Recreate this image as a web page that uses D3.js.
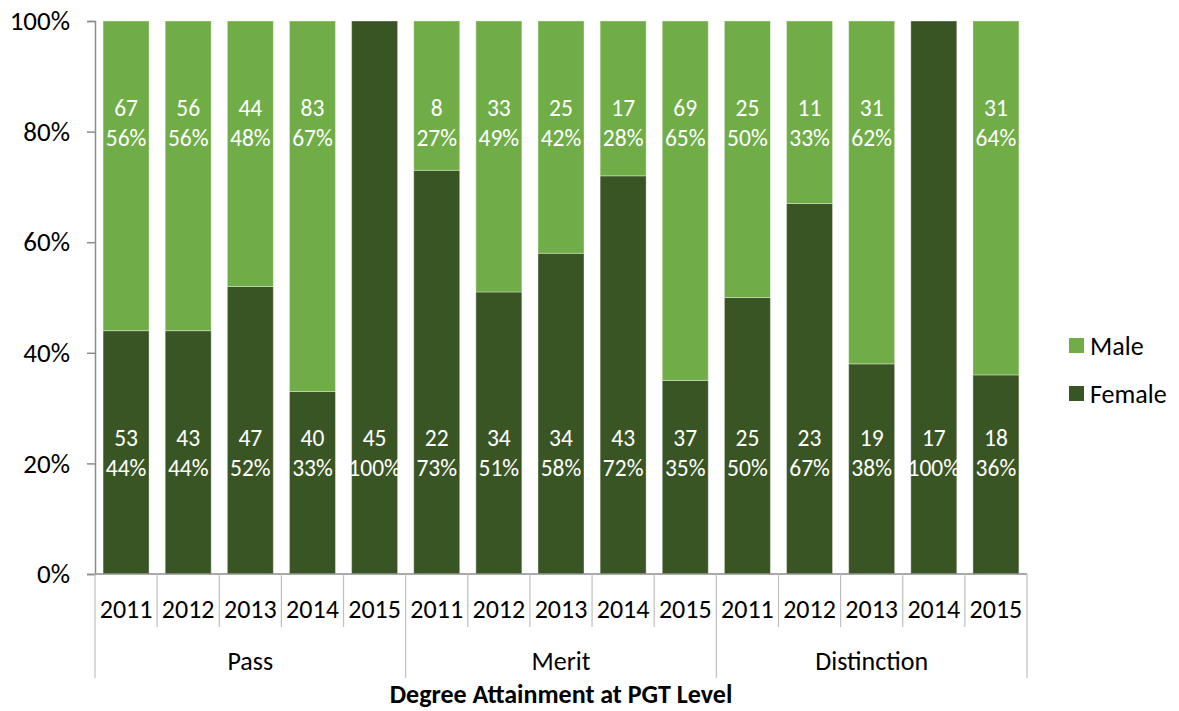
<!DOCTYPE html>
<html>
<head>
<meta charset="utf-8">
<script src="https://cdn.jsdelivr.net/npm/d3@7"></script>
<style>
  html, body { margin: 0; padding: 0; background: #fff; }
  svg { display: block; font-family: Carlito, Calibri, Lato, sans-serif; }
</style>
</head>
<body>
<svg id="chart" width="1179" height="711"></svg>
<script>
// Degree attainment at PGT level, split by gender, per classification and year
const groups = ["Pass", "Merit", "Distinction"];
const years = ["2011", "2012", "2013", "2014", "2015"];
const femaleCount = [53, 43, 47, 40, 45, 22, 34, 34, 43, 37, 25, 23, 19, 17, 18];
const maleCount   = [67, 56, 44, 83, 0,  8, 33, 25, 17, 69, 25, 11, 31, 0, 31];
const femalePct   = [44, 44, 52, 33, 100, 73, 51, 58, 72, 35, 50, 67, 38, 100, 36];
const malePct     = [56, 56, 48, 67, 0,  27, 49, 42, 28, 65, 50, 33, 62, 0, 64];
const yTicks = [0, 20, 40, 60, 80, 100];
const seriesNames = ["Female", "Male"];
const axisTitle = "Degree Attainment at PGT Level";

const colors = { Female: "#3a5524", Male: "#70ad47" };

const rows = [];
groups.forEach((g, gi) => years.forEach((yr, yi) => {
  const i = gi * years.length + yi;
  rows.push({ idx: i, group: g, year: yr,
    Female: femalePct[i], Male: malePct[i],
    FemaleN: femaleCount[i], MaleN: maleCount[i] });
}));

const svg = d3.select("#chart");
const plotL = 95, plotR = 1027, plotT = 21, plotB = 574;

const x = d3.scaleBand()
  .domain(rows.map(d => d.idx))
  .range([plotL, plotR])
  .paddingInner(0.26)
  .paddingOuter(0.13);
const step = x.step();

const y = d3.scaleLinear().domain([0, 100]).range([plotB, plotT]);

const layers = d3.stack().keys(seriesNames)(rows);

// bars
svg.append("g").selectAll("g")
  .data(layers)
  .join("g")
  .attr("fill", d => colors[d.key])
  .selectAll("rect")
  .data(d => d.filter(s => s[1] > s[0]))
  .join("rect")
  .attr("x", d => x(d.data.idx))
  .attr("width", x.bandwidth())
  .attr("y", d => y(d[1]))
  .attr("height", d => y(d[0]) - y(d[1]))
  .attr("stroke", "rgba(255,255,255,0.35)")
  .attr("stroke-width", 1);

// value labels: count above percentage
const lab = svg.append("g")
  .attr("fill", "#fff")
  .attr("font-size", 23.5)
  .attr("text-anchor", "middle");

rows.forEach(d => {
  const cx = x(d.idx) + x.bandwidth() / 2;
  if (d.Female > 0) {
    lab.append("text").attr("x", cx).attr("y", 438).attr("dy", "0.35em").text(d.FemaleN);
    lab.append("text").attr("x", cx).attr("y", 468).attr("dy", "0.35em").text(d.Female + "%");
  }
  if (d.Male > 0) {
    lab.append("text").attr("x", cx).attr("y", 108).attr("dy", "0.35em").text(d.MaleN);
    lab.append("text").attr("x", cx).attr("y", 138).attr("dy", "0.35em").text(d.Male + "%");
  }
});

// y axis
const yAxis = svg.append("g")
  .attr("transform", `translate(${plotL},0)`)
  .call(d3.axisLeft(y).tickValues(yTicks).tickFormat(d => d + "%").tickSize(8).tickPadding(17));
yAxis.select(".domain").attr("stroke", "#8c8c8c").attr("stroke-width", 1.5);
yAxis.selectAll(".tick line").attr("stroke", "#8c8c8c").attr("stroke-width", 1.5);
yAxis.selectAll(".tick text")
  .attr("font-size", 27)
  .attr("fill", "#000")
  .style("font-family", "Carlito, Calibri, Lato, sans-serif");

// x axis baseline
svg.append("line")
  .attr("x1", plotL).attr("x2", plotR)
  .attr("y1", plotB).attr("y2", plotB)
  .attr("stroke", "#8c8c8c").attr("stroke-width", 1.5);

// category separators
const sep = svg.append("g").attr("stroke", "#bfbfbf").attr("stroke-width", 1.2);
d3.range(rows.length + 1).forEach(k => {
  const xx = plotL + k * step;
  const isGroupEdge = k % years.length === 0;
  sep.append("line")
    .attr("x1", xx).attr("x2", xx)
    .attr("y1", plotB).attr("y2", isGroupEdge ? 678 : 627);
});

// year labels
svg.append("g").selectAll("text")
  .data(rows)
  .join("text")
  .attr("x", d => x(d.idx) + x.bandwidth() / 2)
  .attr("y", 609)
  .attr("dy", "0.35em")
  .attr("text-anchor", "middle")
  .attr("font-size", 26)
  .attr("fill", "#000")
  .text(d => d.year);

// group labels
svg.append("g").selectAll("text")
  .data(groups)
  .join("text")
  .attr("x", (d, i) => plotL + (i + 0.5) * years.length * step)
  .attr("y", 661)
  .attr("dy", "0.35em")
  .attr("text-anchor", "middle")
  .attr("font-size", 26)
  .attr("fill", "#000")
  .text(d => d);

// axis title
svg.append("text")
  .attr("x", (plotL + plotR) / 2)
  .attr("y", 694)
  .attr("dy", "0.35em")
  .attr("text-anchor", "middle")
  .attr("font-size", 26)
  .attr("font-weight", "bold")
  .attr("fill", "#000")
  .text(axisTitle);

// legend
const legendItems = ["Male", "Female"];
const lg = svg.append("g").attr("transform", "translate(1069,338)");
legendItems.forEach((k, i) => {
  const row = lg.append("g").attr("transform", `translate(0,${i * 48})`);
  row.append("rect").attr("width", 15).attr("height", 15).attr("fill", colors[k]);
  row.append("text")
    .attr("x", 21).attr("y", 7.5).attr("dy", "0.35em")
    .attr("font-size", 26).attr("fill", "#000")
    .text(k);
});
</script>
</body>
</html>
